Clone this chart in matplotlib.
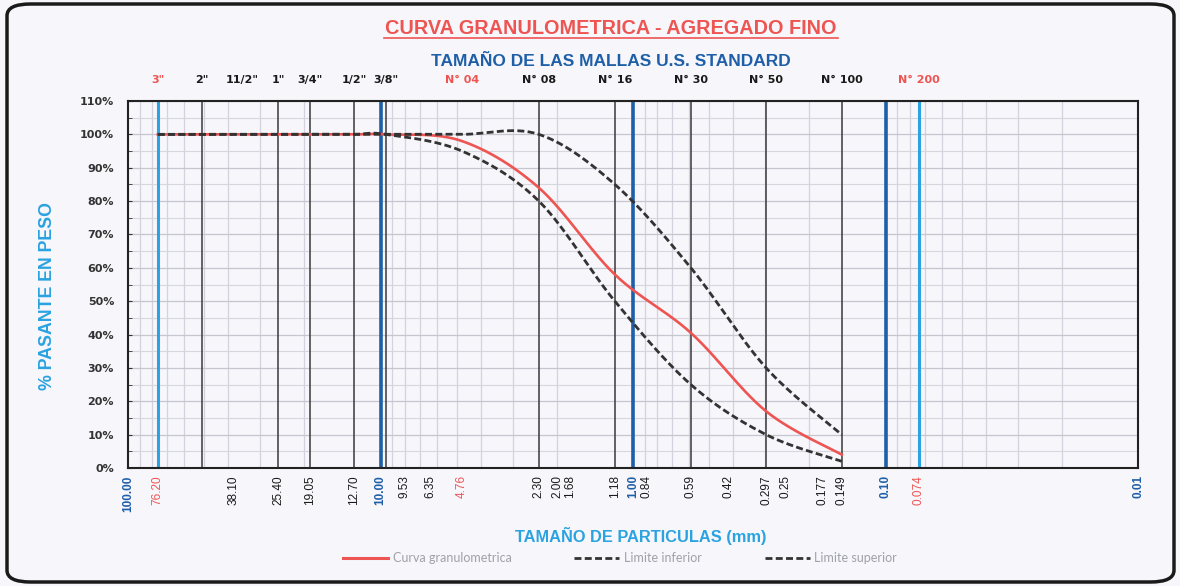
import numpy as np
import matplotlib
matplotlib.use("Agg")
import matplotlib.pyplot as plt
from matplotlib.patches import FancyBboxPatch
from matplotlib.lines import Line2D
from matplotlib.ticker import FixedLocator, MultipleLocator, NullFormatter
from matplotlib.transforms import offset_copy

# tamices (mm) y % que pasa
tamices = [76.2, 50.8, 38.1, 25.4, 19.05, 12.7, 9.53, 4.76, 2.36, 1.18, 0.59, 0.297, 0.149]
curva = [100, 100, 100, 100, 100, 100, 100, 98, 84, 58, 40.5, 17, 4]
lim_inf = [100, 100, 100, 100, 100, 100, 100, 95, 80, 50, 25, 10, 2]
lim_sup = [100, 100, 100, 100, 100, 100, 100, 100, 100, 85, 60, 30, 10]

# etiquetas de arriba (mallas)
mallas_val = [76.2, 50.8, 38.1, 25.4, 19.05, 12.7, 9.53, 4.76, 2.36, 1.18, 0.59, 0.297, 0.149, 0.074]
mallas_txt = ['3"', '2"', '11/2"', '1"', '3/4"', '1/2"', '3/8"', "N° 04", "N° 08", "N° 16",
              "N° 30", "N° 50", "N° 100", "N° 200"]
mallas_red = ['3"', "N° 04", "N° 200"]

# etiquetas de abajo (mm)
abajo_val = [100, 76.2, 38.1, 25.4, 19.05, 12.7, 10, 9.53, 6.35, 4.76, 2.36, 2.0, 1.68, 1.18,
             1.0, 0.84, 0.59, 0.42, 0.297, 0.25, 0.177, 0.149, 0.1, 0.074, 0.01]
abajo_txt = ["100.00", "76.20", "38.10", "25.40", "19.05", "12.70", "10.00", "9.53", "6.35",
             "4.76", "2.30", "2.00", "1.68", "1.18", "1.00", "0.84", "0.59", "0.42", "0.297",
             "0.25", "0.177", "0.149", "0.10", "0.074", "0.01"]
abajo_azul = ["100.00", "10.00", "1.00", "0.10", "0.01"]
abajo_rojo = ["76.20", "4.76", "0.074"]

lineas_negras = [50.8, 25.4, 19.05, 12.7, 9.53, 2.36, 1.18, 0.59, 0.297, 0.149]
lineas_azul = [10, 1, 0.1]
lineas_celeste = [76.2, 0.074]


def suavizar(xs, ys, n=30):
    # curva suavizada tipo excel (bezier / catmull-rom en escala log)
    u = np.log10(np.array(xs, float))
    v = np.array(ys, float)
    P = np.column_stack([u, v])
    out = []
    for i in range(len(P) - 1):
        p0 = P[i - 1] if i > 0 else P[i]
        p1, p2 = P[i], P[i + 1]
        p3 = P[i + 2] if i + 2 < len(P) else P[i + 1]
        c1 = p1 + (p2 - p0) / 6
        c2 = p2 - (p3 - p1) / 6
        t = np.linspace(0, 1, n)[:, None]
        seg = (1 - t) ** 3 * p1 + 3 * (1 - t) ** 2 * t * c1 + 3 * (1 - t) * t ** 2 * c2 + t ** 3 * p2
        out.append(seg if i == 0 else seg[1:])
    out = np.vstack(out)
    return 10 ** out[:, 0], out[:, 1]


bg = "#f6f6fb"
rojo = "#ee5552"
azul = "#1f5fa8"
celeste = "#2aa3e0"
guion = (0, (2.5, 1.2))

fig = plt.figure(figsize=(11.8, 5.86), dpi=100, facecolor=bg)
ax = fig.add_axes([128 / 1180, 1 - 468 / 586, 1010 / 1180, 367 / 586], facecolor=bg)

ax.set_xscale("log")
ax.set_xlim(100, 0.01)
ax.set_ylim(0, 110)

# grid
ax.yaxis.set_major_locator(MultipleLocator(10))
ax.yaxis.set_minor_locator(MultipleLocator(5))
ax.set_yticklabels([f"{int(v)}%" for v in ax.get_yticks()])
ax.grid(axis="y", which="major", color="#c6c6cf", lw=0.9)
ax.grid(axis="y", which="minor", color="#d6d6de", lw=0.8)
ax.xaxis.set_major_locator(FixedLocator([]))
ax.xaxis.set_minor_locator(FixedLocator([m * 10.0 ** e for e in range(-2, 2) for m in range(2, 10)]))
ax.xaxis.set_minor_formatter(NullFormatter())
ax.grid(axis="x", which="minor", color="#d4d2dc", lw=0.9)
ax.tick_params(axis="x", which="both", length=0)
ax.tick_params(axis="y", which="both", direction="in", length=3, color="#333333")
ax.tick_params(axis="y", which="major", pad=10, labelsize=8, labelcolor="#333333")
for lab in ax.get_yticklabels():
    lab.set_fontweight("bold")
    lab.set_family("DejaVu Sans")
for s in ax.spines.values():
    s.set_color("#222222")
    s.set_linewidth(1.5)

for v in lineas_negras:
    ax.axvline(v, color="#3a3a3a", lw=1.1, zorder=2)
for v in lineas_azul:
    ax.axvline(v, color=azul, lw=2.6, zorder=2)
for v in lineas_celeste:
    ax.axvline(v, color=celeste, lw=2.2, zorder=2)

xs, ys = suavizar(tamices, curva)
ax.plot(xs, ys, color=rojo, lw=1.9, zorder=4)
xs, ys = suavizar(tamices, lim_inf)
ax.plot(xs, ys, color="#333333", lw=2, ls=guion, zorder=5)
xs, ys = suavizar(tamices, lim_sup)
ax.plot(xs, ys, color="#333333", lw=2, ls=guion, zorder=5)

# etiquetas de mallas arriba
tr = ax.get_xaxis_transform()
for v, t in zip(mallas_val, mallas_txt):
    dx = 8 if t == '11/2"' else 0
    trans = offset_copy(tr, fig=fig, x=dx * 0.72, y=0, units="points")
    ax.text(v, 1.057, t, transform=trans, ha="center", va="center", fontsize=8,
            fontweight="bold", family="DejaVu Sans",
            color=rojo if t in mallas_red else "#1a1a1a")

# etiquetas de tamaño abajo
for v, t in zip(abajo_val, abajo_txt):
    dx = 19 if t == "9.53" else (-6 if t in ("1.68", "0.84") else 0)
    trans = offset_copy(tr, fig=fig, x=dx * 0.72, y=0, units="points")
    if t in abajo_azul:
        col, fw = azul, "bold"
    elif t in abajo_rojo:
        col, fw = rojo, "normal"
    else:
        col, fw = "#1a1a1a", "normal"
    ax.text(v, -0.02, t, transform=trans, rotation=90, ha="center", va="top",
            fontsize=8.5, fontweight=fw, color=col, family="Liberation Sans")

fig.text(611 / 1180, 1 - 28 / 586, "CURVA GRANULOMETRICA - AGREGADO FINO", ha="center",
         va="center", fontsize=14.3, fontweight="bold", color=rojo, family="Liberation Sans")
fig.add_artist(Line2D([384 / 1180, 838 / 1180], [1 - 38 / 586, 1 - 38 / 586], color=rojo, lw=1.2))
fig.text(611 / 1180, 1 - 62 / 586, "TAMAÑO DE LAS MALLAS U.S. STANDARD", ha="center",
         va="center", fontsize=12.5, fontweight="bold", color=azul, family="Liberation Sans")
fig.text(641 / 1180, 1 - 536 / 586, "TAMAÑO DE PARTICULAS (mm)", ha="center", va="center",
         fontsize=11.8, fontweight="bold", color=celeste, family="Liberation Sans")
fig.text(48 / 1180, 1 - 296 / 586, "% PASANTE EN PESO", ha="center", va="center", rotation=90,
         fontsize=12.8, fontweight="bold", color=celeste, family="Liberation Sans")

# leyenda
handles = [Line2D([], [], color=rojo, lw=2.2),
           Line2D([], [], color="#333333", lw=2, ls=guion),
           Line2D([], [], color="#333333", lw=2, ls=guion)]
leg = fig.legend(handles, ["Curva granulometrica", "Limite inferior", "Limite superior"],
                 loc="center", bbox_to_anchor=(620 / 1180, 1 - 558 / 586), ncol=3, frameon=False,
                 prop={"family": "Lato", "size": 9}, handlelength=3.6, handletextpad=0.4,
                 columnspacing=5.0)
for t in leg.get_texts():
    t.set_color("#a0a0a8")

# marco redondeado
fig.add_artist(FancyBboxPatch((7 / 1180, 4 / 586), 1167 / 1180, 578 / 586,
                              boxstyle="round,pad=0,rounding_size=0.02",
                              transform=fig.transFigure, fill=False, ec="#1a1a1a", lw=2.5))

fig.savefig("out.png", dpi=100, facecolor=bg)
